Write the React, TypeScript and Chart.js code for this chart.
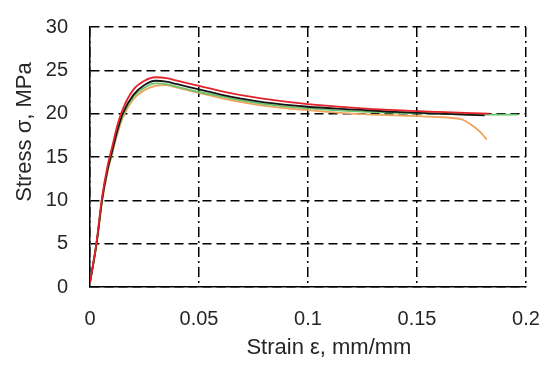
import React, { useEffect, useRef } from "react";
import { Chart, registerables } from "chart.js";

Chart.register(...registerables);

const sharedStrain = [0, 0.003, 0.0055, 0.008, 0.01, 0.0125, 0.015, 0.02, 0.025, 0.03, 0.035, 0.04, 0.05, 0.06, 0.07, 0.08, 0.1, 0.12, 0.14, 0.16];

const redStrain = [...sharedStrain, 0.183];
const redStress = [0.5, 5.2, 10.3, 13.9, 16, 18.6, 20.5, 22.8, 23.8, 24.2, 24.1, 23.8, 23.2, 22.6, 22.1, 21.7, 21.1, 20.7, 20.4, 20.2, 20.0];

const blackStrain = [...sharedStrain, 0.181];
const blackStress = [0.5, 5, 10, 13.5, 15.5, 18, 20, 22.2, 23.3, 23.8, 23.7, 23.4, 22.8, 22.2, 21.7, 21.3, 20.8, 20.5, 20.2, 20.0, 19.8];

const greenStrain = [...sharedStrain, 0.18, 0.196];
const greenStress = [0.5, 5, 10, 13.4, 15.4, 17.9, 19.8, 22, 23.0, 23.5, 23.4, 23.1, 22.5, 22.0, 21.5, 21.1, 20.6, 20.3, 20.1, 20.0, 19.9, 19.9];

const orangeStrain = [...sharedStrain, 0.166, 0.171, 0.175, 0.179, 0.182];
const orangeStress = [0.5, 5, 9.8, 13.2, 15.2, 17.6, 19.5, 21.7, 22.7, 23.2, 23.3, 23.0, 22.4, 21.8, 21.3, 20.9, 20.4, 20.0, 19.8, 19.6, 19.5, 19.3, 18.7, 17.9, 17.0];

const xTicks = [0, 0.05, 0.1, 0.15, 0.2];
const yTicks = [0, 5, 10, 15, 20, 25, 30];

const xTitle = "Strain ε, mm/mm";
const yTitle = "Stress σ, MPa";

const toPoints = (xs: number[], ys: number[]) => xs.map((x, i) => ({ x, y: ys[i] }));

const FONT = '"Liberation Sans", Arial, sans-serif';

const titlePlugin = {
  id: "offsetTitles",
  afterDraw(chart: any) {
    const { ctx, chartArea } = chart;
    const w = chartArea.right - chartArea.left;
    const h = chartArea.bottom - chartArea.top;
    ctx.save();
    ctx.font = `22px ${FONT}`;
    ctx.fillStyle = "#262626";
    ctx.textAlign = "center";
    ctx.textBaseline = "middle";
    ctx.fillText(xTitle, chartArea.left + w * 0.548, chartArea.bottom + 61);
    ctx.translate(25, chartArea.top + h * 0.404);
    ctx.rotate(-Math.PI / 2);
    ctx.fillText(yTitle, 0, 0);
    ctx.restore();
  },
};

export default function App() {
  const ref = useRef<HTMLCanvasElement | null>(null);

  useEffect(() => {
    if (!ref.current) return;
    const mk = (label: string, xs: number[], ys: number[], color: string) => ({
      label,
      data: toPoints(xs, ys),
      borderColor: color,
      backgroundColor: color,
      borderWidth: 1.8,
      pointRadius: 0,
      showLine: true,
      fill: false,
      cubicInterpolationMode: "monotone" as const,
    });
    const chart = new Chart(ref.current, {
      type: "scatter",
      data: {
        datasets: [
          mk("Red", redStrain, redStress, "#e3222b"),
          mk("Black", blackStrain, blackStress, "#151515"),
          mk("Green", greenStrain, greenStress, "#6cc26c"),
          mk("Orange", orangeStrain, orangeStress, "#f0a35a"),
        ],
      },
      options: {
        animation: false,
        responsive: false,
        devicePixelRatio: 1,
        layout: { padding: { top: 27, right: 24, left: 0, bottom: 0 } },
        plugins: { legend: { display: false }, tooltip: { enabled: false } },
        scales: {
          x: {
            type: "linear",
            min: 0,
            max: 0.2,
            afterFit: (s: any) => {
              s.height = 85;
              s.paddingLeft = 0;
              s.paddingRight = 0;
              s.paddingTop = 0;
              s.paddingBottom = 0;
            },
            afterBuildTicks: (s: any) => { s.ticks = xTicks.map((v) => ({ value: v })); },
            ticks: {
              padding: 20,
              color: "#262626",
              font: { family: FONT, size: 20 },
              callback: (v: any) => String(+Number(v).toFixed(2)),
              maxRotation: 0,
            },
            grid: { color: "#000", lineWidth: 1.5, drawTicks: false },
            border: { display: true, color: "#000", width: 1.5, dash: [10, 4, 2, 4] },
          },
          y: {
            type: "linear",
            min: 0,
            max: 30,
            afterFit: (s: any) => {
              s.width = 90;
              s.paddingLeft = 0;
              s.paddingRight = 0;
              s.paddingTop = 0;
              s.paddingBottom = 0;
            },
            afterBuildTicks: (s: any) => { s.ticks = yTicks.map((v) => ({ value: v })); },
            ticks: {
              padding: 22,
              color: "#262626",
              font: { family: FONT, size: 20 },
            },
            grid: { color: "#000", lineWidth: 1.5, drawTicks: false },
            border: { display: true, color: "#000", width: 1.5, dash: [9, 5] },
          },
        },
      },
      plugins: [titlePlugin],
    });
    return () => chart.destroy();
  }, []);

  return (
    <div style={{ position: "absolute", left: 0, top: 0, width: 550, height: 372, background: "#fff" }}>
      <canvas ref={ref} width={550} height={372} style={{ width: 550, height: 372, display: "block" }} />
    </div>
  );
}
